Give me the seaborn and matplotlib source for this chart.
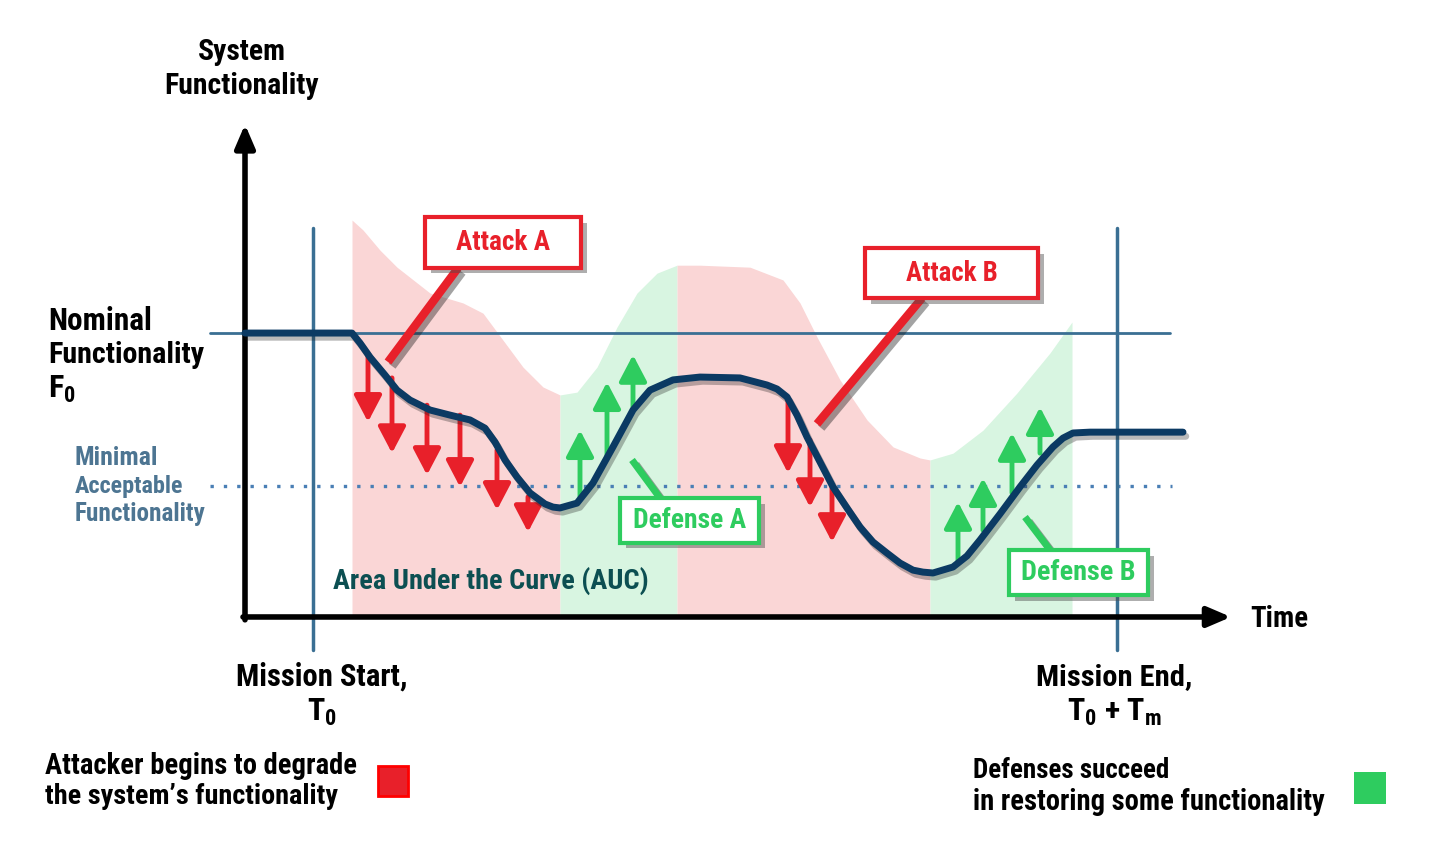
import matplotlib
matplotlib.use("Agg")
import matplotlib.pyplot as plt
import matplotlib.patheffects as pe
from matplotlib import font_manager
from matplotlib.patches import Rectangle
import numpy as np
import pandas as pd
import seaborn as sns

# ---- data (time: axis units, functionality: % of nominal) ----
curve_t = [0, 10.7, 11.5, 12.5, 14.0, 15.2, 16.5, 18.5, 20.5, 22.5, 24.0, 25.0, 26.0, 27.2,
           28.5, 30.0, 30.8, 31.5, 33.2, 34.8, 36.8, 38.8, 40.5, 42.8, 45.5, 49.5, 52.2,
           53.2, 54.2, 55.2, 56.2, 57.5, 58.8, 60.2, 61.5, 62.8, 64.2, 65.5, 66.8, 67.8,
           68.8, 70.8, 72.2, 73.5, 75.5, 77.5, 79.2, 80.8, 81.8, 82.8, 84.5, 87.2, 93.8]
curve_f = [100, 100, 96.5, 91.5, 85.2, 79.9, 76.4, 72.9, 71.1, 69.4, 66.5, 61.6, 55.3, 49.3,
           43.7, 39.8, 38.7, 38.4, 40.1, 47.2, 59.9, 72.9, 79.9, 83.5, 84.5, 84.2, 81.7,
           80.3, 77.5, 71.1, 63.4, 54.6, 45.8, 38.4, 31.7, 26.4, 22.5, 19.0, 16.5, 15.8,
           15.5, 17.6, 21.5, 27.1, 36.3, 45.8, 53.5, 59.9, 63.0, 64.8, 65.1, 65.1, 65.1]

# upper edge of the shaded AUC band
band_t = [10.7, 11.8, 13.5, 15.2, 18.5, 21.8, 23.8, 25.8, 27.8, 29.8, 31.5, 33.2, 35.2,
          37.2, 39.2, 41.2, 43.2, 45.5, 50.5, 53.8, 55.5, 57.2, 59.5, 62.2, 64.8, 67.5,
          68.5, 70.8, 73.8, 77.2, 80.5, 82.7]
band_f = [139.8, 136.3, 129.2, 123.2, 114.1, 110.6, 107.0, 97.5, 88.0, 81.0, 78.2, 79.2,
          88.0, 102.1, 114.1, 121.1, 123.9, 123.9, 123.2, 118.7, 110.6, 98.6, 83.5, 69.4,
          59.9, 56.0, 55.3, 57.7, 65.8, 78.9, 93.0, 103.9]
phase_edges = [10.7, 31.5, 43.2, 68.5, 82.7]
phase_kind = ["attack", "defense", "attack", "defense"]

# degradation arrows (time, start, tip)
attack_t = [12.3, 14.7, 18.2, 21.5, 25.2, 28.3, 54.3, 56.5, 58.7]
attack_from = [92.3, 84.2, 74.6, 71.1, 58.8, 42.3, 76.4, 62.3, 46.5]
attack_to = [68.7, 57.7, 50.0, 45.8, 37.7, 29.9, 50.7, 38.7, 26.4]
# restoring arrows
defense_t = [33.5, 36.2, 38.8, 71.3, 73.8, 76.7, 79.5]
defense_from = [42.3, 56.3, 73.9, 19.0, 30.6, 43.7, 57.7]
defense_to = [65.8, 82.7, 92.3, 40.5, 48.9, 64.8, 73.9]

nominal_f = 100
minimal_f = 46.1
mission_start = 6.8
mission_end = 87.2

RED = "#e8202a"
GREEN = "#2ecc5f"
PINK = "#fad6d6"
MINT = "#d8f5e1"
NAVY = "#0b3a63"
STEEL = "#3a6f93"
SLATE = "#4d7592"
TEAL = "#0c4f52"

sns.set_theme(style="white")

# pick a condensed bold face if one is installed
FONT = "DejaVu Sans"
names = {f.name for f in font_manager.fontManager.ttflist}
for cand in ["Liberation Sans Narrow", "Roboto Condensed", "Open Sans Condensed", "DejaVu Sans"]:
    if cand in names:
        FONT = cand
        break
plt.rcParams["font.family"] = [FONT, "DejaVu Sans"]
plt.rcParams["font.stretch"] = "condensed"
plt.rcParams["mathtext.fontset"] = "custom"
for k in ("rm", "it", "bf"):
    plt.rcParams["mathtext." + k] = FONT + ":weight=bold:stretch=condensed"

fig = plt.figure(figsize=(14.3, 8.41), dpi=100)
ax = fig.add_axes([0, 0, 1, 1])
ax.set_xlim(-24.5, 118.5)
ax.set_ylim(-78.9, 217.3)
ax.axis("off")

# shaded phases
bt = np.array(band_t)
bf = np.array(band_f)
for i, kind in enumerate(phase_kind):
    m = (bt >= phase_edges[i]) & (bt <= phase_edges[i + 1])
    ax.fill_between(bt[m], 0, bf[m], color=PINK if kind == "attack" else MINT, lw=0, zorder=1)

# reference lines
ax.plot([-3.5, 92.5], [nominal_f, nominal_f], color=STEEL, lw=2, zorder=2)
ax.plot([-3.5, 92.7], [minimal_f, minimal_f], color="#4a7fb5", lw=2.4, ls=(0, (1, 3.0)), zorder=2)
for x in (mission_start, mission_end):
    ax.plot([x, x], [-11.6, 137], color=STEEL, lw=2.5, zorder=2)

# axes arrows
ax.annotate("", xy=(0, 173.5), xytext=(0, -1), zorder=3,
            arrowprops=dict(arrowstyle="-|>,head_length=0.7,head_width=0.3", mutation_scale=20,
                            lw=4, color="black", shrinkA=0, shrinkB=0))
ax.annotate("", xy=(98.6, 0), xytext=(-0.2, 0), zorder=3,
            arrowprops=dict(arrowstyle="-|>,head_length=0.7,head_width=0.3", mutation_scale=20,
                            lw=4, color="black", shrinkA=0, shrinkB=0))

# arrows
for t, a, b in zip(attack_t, attack_from, attack_to):
    ax.annotate("", xy=(t, b), xytext=(t, a), zorder=4,
                arrowprops=dict(arrowstyle="-|>,head_length=0.8,head_width=0.42", mutation_scale=20,
                                lw=3.5, color=RED, shrinkA=0, shrinkB=0))
for t, a, b in zip(defense_t, defense_from, defense_to):
    ax.annotate("", xy=(t, b), xytext=(t, a), zorder=4,
                arrowprops=dict(arrowstyle="-|>,head_length=0.8,head_width=0.42", mutation_scale=20,
                                lw=3.5, color=GREEN, shrinkA=0, shrinkB=0))

# functionality curve
df = pd.DataFrame({"time": curve_t, "func": curve_f})
sns.lineplot(data=df, x="time", y="func", ax=ax, color=NAVY, lw=5, zorder=5,
             solid_joinstyle="round", solid_capstyle="round",
             path_effects=[pe.SimpleLineShadow(offset=(2, -3), alpha=0.3), pe.Normal()])
ax.set_xlabel("")
ax.set_ylabel("")

texts = []  # (text object, width in px seen in the reference)


def label(x, y, s, width, size=22, **kw):
    kw.setdefault("fontweight", "heavy")
    kw.setdefault("color", "black")
    kw.setdefault("va", "center")
    kw.setdefault("ha", "left")
    t = ax.text(x, y, s, fontsize=size, **kw)
    if width:
        texts.append((t, width))
    return t


# callouts
shadow = [pe.SimpleLineShadow(offset=(3, -3), alpha=0.4), pe.Normal()]
callouts = [
    ("Attack A", 25.8, 131.9, 15.6, 17.9, (21.3, 122.9), (14.3, 89.8), RED, 6, 94),
    ("Attack B", 70.65, 121.1, 17.3, 17.6, (67.7, 112.3), (57.2, 68.0), RED, 6, 92),
    ("Defense A", 44.45, 34.0, 13.9, 15.8, (41.5, 41.9), (38.7, 55.3), GREEN, 5, 114),
    ("Defense B", 83.35, 15.65, 13.9, 15.9, (80.5, 23.6), (78.0, 35.2), GREEN, 5, 115),
]
for s, cx, cy, w, h, p0, p1, col, plw, tw in callouts:
    ax.plot([p0[0], p1[0]], [p0[1], p1[1]], color=col, lw=plw, zorder=6,
            solid_capstyle="butt", path_effects=shadow)
    box = Rectangle((cx - w / 2, cy - h / 2), w, h, fc="white", ec=col, lw=3, zorder=7)
    box.set_path_effects([pe.SimplePatchShadow(offset=(4, -4), alpha=0.45), pe.Normal()])
    ax.add_patch(box)
    label(cx, cy, s, tw, size=20.5, color=col, ha="center", zorder=8)

# labels
label(-0.3, 198.9, "System", 88, ha="center")
label(-0.3, 187.0, "Functionality", 155, ha="center")
label(-19.7, 104.2, "Nominal", 104)
label(-19.7, 92.3, "Functionality", 157)
label(-19.7, 80.3, "F$_0$", None, size=23)
for s, y, w in zip(["Minimal", "Acceptable", "Functionality"], [56.0, 46.1, 36.3], [83, 108, 130]):
    label(-17.0, y, s, w, size=18.3, color=SLATE)
label(8.8, 12.7, "Area Under the Curve (AUC)", 315, size=21, color=TEAL)
label(100.5, -0.7, "Time", 58)
label(7.7, -21.1, "Mission Start,", 171, ha="center")
label(7.7, -33.5, "T$_0$", None, size=23, ha="center")
label(86.9, -21.1, "Mission End,", 156, ha="center")
label(86.9, -33.5, "T$_0$ + T$_m$", None, size=23, ha="center")

label(-20.0, -52.5, "Attacker begins to degrade", 311, size=21)
label(-20.0, -63.4, "the system\u2019s functionality", 293, size=21)
label(72.8, -54.2, "Defenses succeed", 197, size=21)
label(72.8, -65.1, "in restoring some functionality", 352, size=21)
ax.add_patch(Rectangle((13.3, -63.0), 3.0, 10.5, fc=RED, ec="#ff0000", lw=2))
ax.add_patch(Rectangle((110.9, -65.8), 3.2, 11.2, fc=GREEN, ec=GREEN, lw=0))

# squeeze each label to the width it has in the reference
renderer = fig.canvas.get_renderer()
for t, w in texts:
    cur = t.get_window_extent(renderer).width
    fs = t.get_fontsize()
    t.set_fontsize(fs * min(1.15, max(0.6, w / cur)))

fig.savefig("out.png", dpi=100)
